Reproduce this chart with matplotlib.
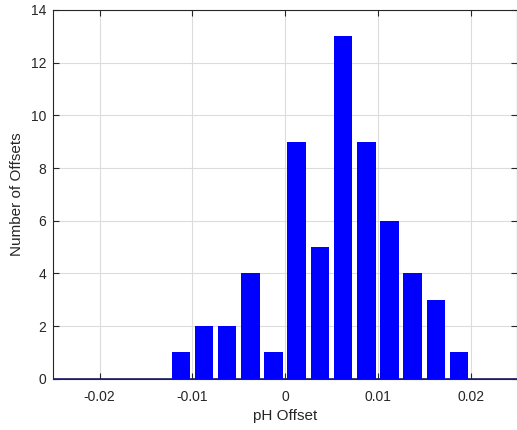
import matplotlib.pyplot as plt
import numpy as np

plt.rcParams['font.family'] = ['Liberation Sans', 'DejaVu Sans']

# histogram of pH offsets, bin width 0.0025 from -0.025 to 0.025
bin_edges = np.linspace(-0.025, 0.025, 21)
counts = [0, 0, 0, 0, 0, 1, 2, 2, 4, 1, 9, 5, 13, 9, 6, 4, 3, 1, 0, 0]
xticks = [-0.02, -0.01, 0, 0.01, 0.02]
xticklabels = ['-0.02', '-0.01', '0', '0.01', '0.02']
yticks = [0, 2, 4, 6, 8, 10, 12, 14]

centers = (bin_edges[:-1] + bin_edges[1:]) / 2
width = 0.8 * (bin_edges[1] - bin_edges[0])

fig = plt.figure(figsize=(5.17, 4.30), dpi=100)
ax = fig.add_axes([0.103, 0.119, 0.897, 0.858])

ax.axhline(0, color='#1a1a6e', lw=1.2, zorder=2)
ax.bar(centers, counts, width=width, color='#0000ff', edgecolor='none', zorder=3)

ax.set_xlim(-0.025, 0.025)
ax.set_ylim(0, 14)
ax.set_xticks(xticks)
ax.set_xticklabels(xticklabels)
ax.set_yticks(yticks)
ax.grid(True, color='#dcdcdc', lw=0.8, zorder=0)
ax.set_axisbelow(True)

for s in ['top', 'left', 'bottom', 'right']:
    ax.spines[s].set_color('#262626')
    ax.spines[s].set_linewidth(0.8)
ax.tick_params(direction='in', length=4, color='#262626', labelsize=10, labelcolor='#262626', top=True, right=True)
ax.tick_params(axis='x', pad=8)
ax.tick_params(axis='y', pad=5)

ax.set_xlabel('pH Offset', fontsize=11, color='#262626', labelpad=4)
ax.set_ylabel('Number of Offsets', fontsize=11, color='#262626', labelpad=5)

fig.savefig('out.png', dpi=100)
